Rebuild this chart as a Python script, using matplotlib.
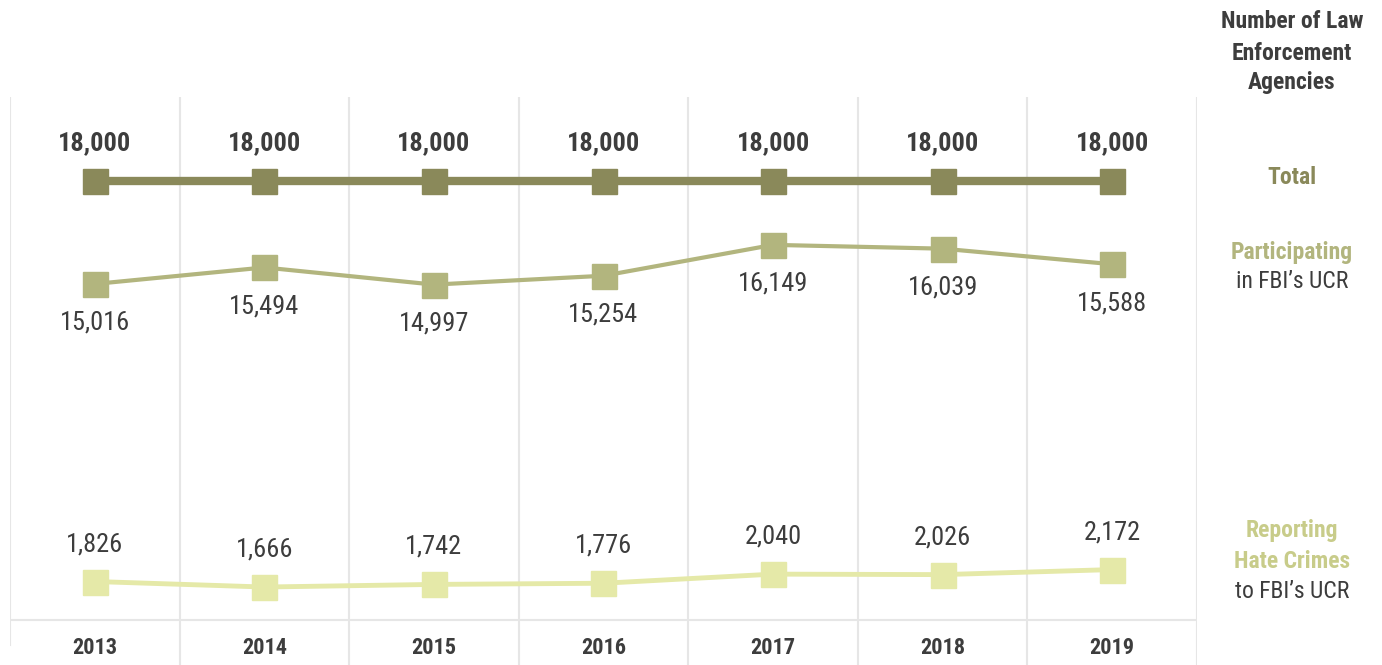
import matplotlib
matplotlib.use("Agg")
import matplotlib.pyplot as plt
from matplotlib import font_manager

years = ["2013", "2014", "2015", "2016", "2017", "2018", "2019"]
total = [18000, 18000, 18000, 18000, 18000, 18000, 18000]
participating = [15016, 15494, 14997, 15254, 16149, 16039, 15588]
hate_reporting = [1826, 1666, 1742, 1776, 2040, 2026, 2172]

C_TOTAL = "#8a895a"
C_PART = "#b2b57e"
C_HATE = "#e5e9a8"
C_HATE_TXT = "#c8cc8a"
C_TEXT = "#3d3d3d"
C_GRID = "#e6e6e6"

# pick a narrow font if one is installed, else Roboto
names = {f.name for f in font_manager.fontManager.ttflist}
narrow = [n for n in ["Roboto Condensed", "Liberation Sans Narrow", "Open Sans Condensed",
                      "Noto Sans Condensed", "DejaVu Sans Condensed"] if n in names]
if narrow:
    FONT, SCALE = narrow[0], 1.0
else:
    FONT, SCALE = "Roboto", 0.88
plt.rcParams["font.family"] = [FONT, "DejaVu Sans"]

W, H = 1382, 665
fig = plt.figure(figsize=(W / 100, H / 100), dpi=100)

# axes spans pixel x 10..1197, y 97..665 (from top)
ax = fig.add_axes([10 / W, 0, 1187 / W, 568 / H])
ax2 = ax.twinx()

x = list(range(len(years)))
ax.set_xlim(-0.5, len(years) - 0.5)

# same px-per-unit on both axes, broken between the two groups
span = 16464
ax.set_ylim(20435 - span, 20435)
ax2.set_ylim(-594, -594 + span)

for a in (ax, ax2):
    a.set_axis_off()

# grid
for i in range(len(years) + 1):
    ymin = 0.035 if i == 0 else 0.0
    ax.axvline(i - 0.5, ymin=ymin, ymax=1, color=C_GRID, lw=1.5, zorder=0)
ax.axhline(ax.get_ylim()[0] + span * 0.0792, color=C_GRID, lw=1.5, zorder=0)

ax.plot(x, total, color=C_TOTAL, lw=6, marker="s", ms=18, zorder=3)
ax.plot(x, participating, color=C_PART, lw=3, marker="s", ms=18, zorder=3)
ax2.plot(x, hate_reporting, color=C_HATE, lw=3.5, marker="s", ms=18, zorder=3)

fs = 19 * SCALE
for xi, v in zip(x, total):
    ax.annotate(f"{v:,}", (xi, v), xytext=(0, 27), textcoords="offset points",
                ha="center", va="center", fontsize=fs, fontweight="bold", color=C_TEXT)
for xi, v in zip(x, participating):
    ax.annotate(f"{v:,}", (xi, v), xytext=(0, -28), textcoords="offset points",
                ha="center", va="center", fontsize=fs, color=C_TEXT)
for xi, v in zip(x, hate_reporting):
    ax2.annotate(f"{v:,}", (xi, v), xytext=(0, 27), textcoords="offset points",
                 ha="center", va="center", fontsize=fs, color=C_TEXT)

trans = ax.get_xaxis_transform()
for xi, yr in zip(x, years):
    ax.text(xi, 0.030, yr, transform=trans, ha="center", va="center",
            fontsize=16 * SCALE, fontweight="bold", color=C_TEXT)

# right side labels
rx = 1292 / W
def ftext(ypx, s, color, bold):
    fig.text(rx, 1 - ypx / H, s, ha="center", va="center", fontsize=17 * SCALE,
             fontweight="bold" if bold else "normal", color=color)

ftext(22, "Number of Law", C_TEXT, True)
ftext(53, "Enforcement", C_TEXT, True)
ftext(83, "Agencies", C_TEXT, True)
ftext(177, "Total", C_TOTAL, True)
ftext(252, "Participating", C_PART, True)
ftext(281, "in FBI\u2019s UCR", C_TEXT, False)
ftext(531, "Reporting", C_HATE_TXT, True)
ftext(562, "Hate Crimes", C_HATE_TXT, True)
ftext(591, "to FBI\u2019s UCR", C_TEXT, False)

fig.savefig("out.png", dpi=100)
